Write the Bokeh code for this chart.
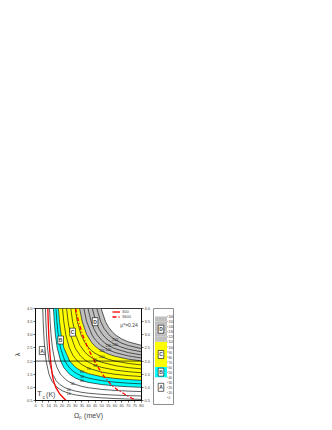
from bokeh.plotting import figure
from bokeh.models import Range1d, LinearAxis, FixedTicker, Span, Label, Legend, LegendItem
from bokeh.layouts import row
from bokeh.embed import file_html
from bokeh.resources import INLINE
from bokeh.core.properties import value

FONT = "Liberation Sans"

# ---------------- data ----------------
X_TICKS = [0, 5, 10, 15, 20, 25, 30, 35, 40, 45, 50, 55, 60, 65, 70, 75, 80]
Y_TICKS = [0.5, 1.0, 1.5, 2.0, 2.5, 3.0, 3.5, 4.0]
Y_TICK_LABELS = ["0.5", "1.0", "1.5", "2.0", "2.5", "3.0", "3.5", "4.0"]
REF_LAMBDA = 2.0

# Tc contour levels (K) and the coloured regions
LEVELS = [0, 10, 20, 30, 40, 50, 60, 70, 80, 90, 100, 110, 120, 130, 140, 150, 160]
CONTOUR_LEVELS = [10, 20, 30, 40, 50, 60, 70, 80, 90, 100, 110, 120, 130, 140, 150, 160]
REGION_NAMES = ["A", "B", "C", "D"]
REGION_BOUNDS = [0, 40, 60, 110, 160]

# contour paths: Omega_p (meV) and lambda
OM_10 = [5.47, 5.80, 6.25, 6.91, 8.02, 10.17, 12.25, 16.23, 20, 25, 30, 40, 50, 60, 70, 80]
LAM_10 = [4.0, 3.5, 3.0, 2.5, 2.0, 1.5, 1.25, 1.0, 0.874, 0.776, 0.714, 0.642, 0.601, 0.574, 0.555, 0.542]
OM_20 = [7.49, 7.83, 8.31, 9.04, 10.29, 12.89, 15.65, 18.58, 21.5, 25, 30, 35, 40, 50, 60, 70, 80]
LAM_20 = [4.0, 3.5, 3.0, 2.5, 2.0, 1.5, 1.25, 1.1, 1.005, 0.929, 0.858, 0.810, 0.777, 0.733, 0.705, 0.685, 0.671]
OM_30 = [10.59, 11.06, 11.73, 12.78, 14.64, 16.25, 18.9, 22.66, 25, 28, 35, 40, 50, 60, 70, 80]
LAM_30 = [4.0, 3.5, 3.0, 2.5, 2.0, 1.75, 1.5, 1.3, 1.22, 1.145, 1.035, 0.986, 0.922, 0.883, 0.857, 0.838]
OM_40 = [13.59, 14.17, 15.03, 16.41, 19.01, 21.4, 25.66, 30, 35, 40, 50, 60, 70, 80]
LAM_40 = [4.0, 3.5, 3.0, 2.5, 2.0, 1.75, 1.5, 1.357, 1.256, 1.189, 1.106, 1.056, 1.023, 1.0]
OM_50 = [15.44, 16.13, 17.15, 18.84, 22.2, 25.5, 28.77, 31.5, 35, 40, 50, 60, 70, 80]
LAM_50 = [4.0, 3.5, 3.0, 2.5, 2.0, 1.75, 1.6, 1.513, 1.432, 1.351, 1.254, 1.197, 1.159, 1.133]
OM_60 = [17.33, 18.13, 19.34, 21.43, 25.83, 29.36, 32, 35, 40, 50, 60, 70, 80]
LAM_60 = [4.0, 3.5, 3.0, 2.5, 2.0, 1.8, 1.70, 1.616, 1.519, 1.404, 1.339, 1.296, 1.267]
OM_70 = [20.39, 21.35, 22.85, 25.53, 28.45, 31.64, 35, 40, 50, 60, 70, 80]
LAM_70 = [4.0, 3.5, 3.0, 2.5, 2.2, 2.0, 1.862, 1.728, 1.579, 1.497, 1.446, 1.411]
OM_80 = [23.46, 24.61, 26.45, 29.88, 33.85, 37, 40, 45, 50, 60, 70, 80]
LAM_80 = [4.0, 3.5, 3.0, 2.5, 2.2, 2.054, 1.954, 1.838, 1.759, 1.658, 1.596, 1.555]
OM_90 = [26.63, 28.01, 30.29, 33.54, 37.07, 39.5, 42, 45, 50, 60, 70, 80]
LAM_90 = [4.0, 3.5, 3.0, 2.6, 2.35, 2.233, 2.141, 2.056, 1.953, 1.827, 1.752, 1.702]
OM_100 = [29.92, 31.57, 34.37, 37.26, 40.23, 42.5, 45, 50, 55, 60, 70, 80]
LAM_100 = [4.0, 3.5, 3.0, 2.7, 2.5, 2.39, 2.295, 2.16, 2.067, 2.0, 1.91, 1.851]
OM_110 = [33.29, 35.26, 38.74, 42.5, 44.3, 47, 50, 55, 60, 70, 80]
LAM_110 = [4.0, 3.5, 3.0, 2.7, 2.6, 2.484, 2.385, 2.266, 2.182, 2.072, 2.003]
OM_120 = [36.46, 38.63, 42.6, 44.53, 47.1, 50, 55, 60, 70, 80]
LAM_120 = [4.0, 3.5, 3.0, 2.85, 2.7, 2.575, 2.425, 2.324, 2.196, 2.118]
OM_130 = [39.62, 42.0, 44.31, 46.55, 49.78, 52, 55, 60, 70, 80]
LAM_130 = [4.0, 3.5, 3.2, 3.0, 2.8, 2.7, 2.596, 2.471, 2.321, 2.233]
OM_140 = [42.9, 45.53, 48.17, 50.8, 52.56, 55, 60, 65, 70, 80]
LAM_140 = [4.0, 3.5, 3.2, 3.0, 2.9, 2.79, 2.632, 2.527, 2.451, 2.351]
OM_150 = [46.26, 49.21, 51.65, 55.44, 57.5, 60, 65, 70, 80]
LAM_150 = [4.0, 3.5, 3.25, 3.0, 2.905, 2.814, 2.681, 2.591, 2.474]
OM_160 = [49.51, 52.82, 54.99, 58.12, 61, 65, 70, 80]
LAM_160 = [4.0, 3.5, 3.3, 3.1, 2.971, 2.843, 2.733, 2.596]

# red curves (lambda * Omega^2 = const)
RED_LABELS = ["300", "3600"]
RED300_OM = [9.3, 9.6, 10.0, 10.6, 11.4, 12.6, 13.6, 15.3, 18.3, 23.0]
RED300_LAM = [4.0, 3.5, 3.0, 2.5, 2.0, 1.5, 1.25, 1.0, 0.75, 0.5]
RED3600_OM = [30.3, 32.5, 35.5, 39.5, 44.5, 48.0, 52.0, 57.0, 62.0, 68.0, 75.8]
RED3600_LAM = [4.0, 3.5, 3.0, 2.5, 2.0, 1.7, 1.4, 1.1, 0.9, 0.72, 0.5]

MU_TEXT = "\u03bc*=0.24"

# ---------------- styles ----------------
REGION_COLORS = {"A": "#ffffff", "B": "#00ffff", "C": "#ffff00", "D": "#c0c0c0"}

contours = {
    10: (OM_10, LAM_10), 20: (OM_20, LAM_20), 30: (OM_30, LAM_30), 40: (OM_40, LAM_40),
    50: (OM_50, LAM_50), 60: (OM_60, LAM_60), 70: (OM_70, LAM_70), 80: (OM_80, LAM_80),
    90: (OM_90, LAM_90), 100: (OM_100, LAM_100), 110: (OM_110, LAM_110), 120: (OM_120, LAM_120),
    130: (OM_130, LAM_130), 140: (OM_140, LAM_140), 150: (OM_150, LAM_150), 160: (OM_160, LAM_160),
}

p = figure(frame_width=106, frame_height=92, x_range=Range1d(0, 80), y_range=Range1d(0.5, 4.0),
           output_backend="svg", toolbar_location=None,
           min_border_left=35, min_border_right=12, min_border_top=308, min_border_bottom=22)
p.grid.visible = False
p.outline_line_color = "black"
p.outline_line_width = 0.8
p.background_fill_color = "white"

# filled bands
for i, name in enumerate(REGION_NAMES):
    lo, hi = REGION_BOUNDS[i], REGION_BOUNDS[i + 1]
    if lo not in contours or hi not in contours:
        continue
    om_lo, lam_lo = contours[lo]
    om_hi, lam_hi = contours[hi]
    p.patch(om_lo + om_hi[::-1], lam_lo + lam_hi[::-1], fill_color=REGION_COLORS[name],
            line_color=None)

# contour lines
p.multi_line([contours[l][0] for l in CONTOUR_LEVELS], [contours[l][1] for l in CONTOUR_LEVELS],
             line_color="#1a1a1a", line_width=0.7)

# contour labels
lx, ly, lt = [], [], []
for l in CONTOUR_LEVELS[:-1]:
    om, lam = contours[l]
    k = len(om) // 2 + 1
    lx.append(om[k]); ly.append(lam[k]); lt.append(str(l))
p.text(lx, ly, text=lt, text_font=value(FONT), text_font_size="3.5px", text_color="#222222",
       text_align="center", text_baseline="middle")

# reference line at lambda = 2
p.add_layout(Span(location=REF_LAMBDA, dimension="width", line_color="black", line_width=0.7))

# red curves
r1 = p.line(RED300_OM, RED300_LAM, line_color="red", line_width=1.3)
r2 = p.line(RED3600_OM, RED3600_LAM, line_color="red", line_width=1.3, line_dash="4 2 1 2")

legend = Legend(items=[LegendItem(label=RED_LABELS[0], renderers=[r1]),
                       LegendItem(label=RED_LABELS[1], renderers=[r2])],
                location=(77, 81), margin=0, padding=1, spacing=0,
                glyph_width=8, glyph_height=3, label_height=3, label_standoff=2,
                label_text_font=FONT, label_text_font_size="4px",
                border_line_color=None, background_fill_alpha=0)
p.add_layout(legend)

p.add_layout(Label(x=64, y=3.27, text=MU_TEXT, text_font=FONT, text_font_size="5px"))

# region markers
BOX_STYLE = dict(text_font=FONT, text_font_size="5px", text_font_style="bold",
                 text_align="center", text_baseline="middle",
                 background_fill_color="white", border_line_color="black",
                 border_line_width=0.6, padding=1)
for name, bx, by in zip(REGION_NAMES, [5, 19, 28, 45], [2.4, 2.8, 3.1, 3.5]):
    p.add_layout(Label(x=bx, y=by, text=name, **BOX_STYLE))

# Tc(K) caption
p.add_layout(Label(x=1.2, y=0.6, text="T", text_font=FONT, text_font_size="8px"))
p.add_layout(Label(x=5.3, y=0.53, text="c", text_font=FONT, text_font_size="5px"))
p.add_layout(Label(x=8.0, y=0.6, text="(K)", text_font=FONT, text_font_size="7px"))

# axes
def style_axis(ax):
    ax.axis_line_color = "black"
    ax.axis_line_width = 0.8
    ax.major_tick_in = 0
    ax.major_tick_out = 2
    ax.major_tick_line_width = 0.6
    ax.minor_tick_line_color = None
    ax.major_label_text_font = FONT
    ax.major_label_text_font_size = "4px"
    ax.major_label_standoff = 1
    ax.axis_label_text_font = FONT
    ax.axis_label_text_font_style = "normal"

xa = p.xaxis[0]
xa.ticker = FixedTicker(ticks=X_TICKS)
xa.axis_label = "\u03a9\u209a (meV)"
xa.axis_label_text_font_size = "7px"
xa.axis_label_standoff = 2
style_axis(xa)

ya = p.yaxis[0]
ya.ticker = FixedTicker(ticks=Y_TICKS)
ya.major_label_overrides = dict(zip(Y_TICKS, Y_TICK_LABELS))
ya.axis_label = "\u03bb"
ya.axis_label_text_font_size = "7px"
ya.axis_label_standoff = 3
style_axis(ya)

yr = LinearAxis(ticker=FixedTicker(ticks=Y_TICKS))
yr.major_label_overrides = dict(zip(Y_TICKS, Y_TICK_LABELS))
style_axis(yr)
p.add_layout(yr, "right")

# ---------------- colour scale ----------------
cb = figure(frame_width=20, frame_height=96, x_range=Range1d(0, 20), y_range=Range1d(-14, 176),
            x_axis_location=None, y_axis_location=None, output_backend="svg",
            toolbar_location=None, min_border_left=0, min_border_right=2,
            min_border_top=307, min_border_bottom=19)
cb.grid.visible = False
cb.outline_line_color = "#8c8c8c"
cb.outline_line_width = 1

band_colors = []
for lo in LEVELS[:-1]:
    for i, name in enumerate(REGION_NAMES):
        if REGION_BOUNDS[i] <= lo < REGION_BOUNDS[i + 1]:
            band_colors.append(REGION_COLORS[name])
cb.quad(left=1.5, right=13.5, bottom=LEVELS[:-1], top=LEVELS[1:], fill_color=band_colors,
        line_color=None)
cb.segment(x0=13.5, x1=14.6, y0=LEVELS, y1=LEVELS, line_color="#555555", line_width=0.5)
cb.text(x=14.9, y=LEVELS, text=[str(l) for l in LEVELS], text_font=value(FONT),
        text_font_size="3.2px", text_color="#333333", text_align="left", text_baseline="middle")
for i, name in enumerate(REGION_NAMES):
    cb.add_layout(Label(x=7.5, y=(REGION_BOUNDS[i] + REGION_BOUNDS[i + 1]) / 2, text=name,
                        **BOX_STYLE))

layout = row(p, cb)
open("out.html", "w").write(file_html(layout, INLINE))
